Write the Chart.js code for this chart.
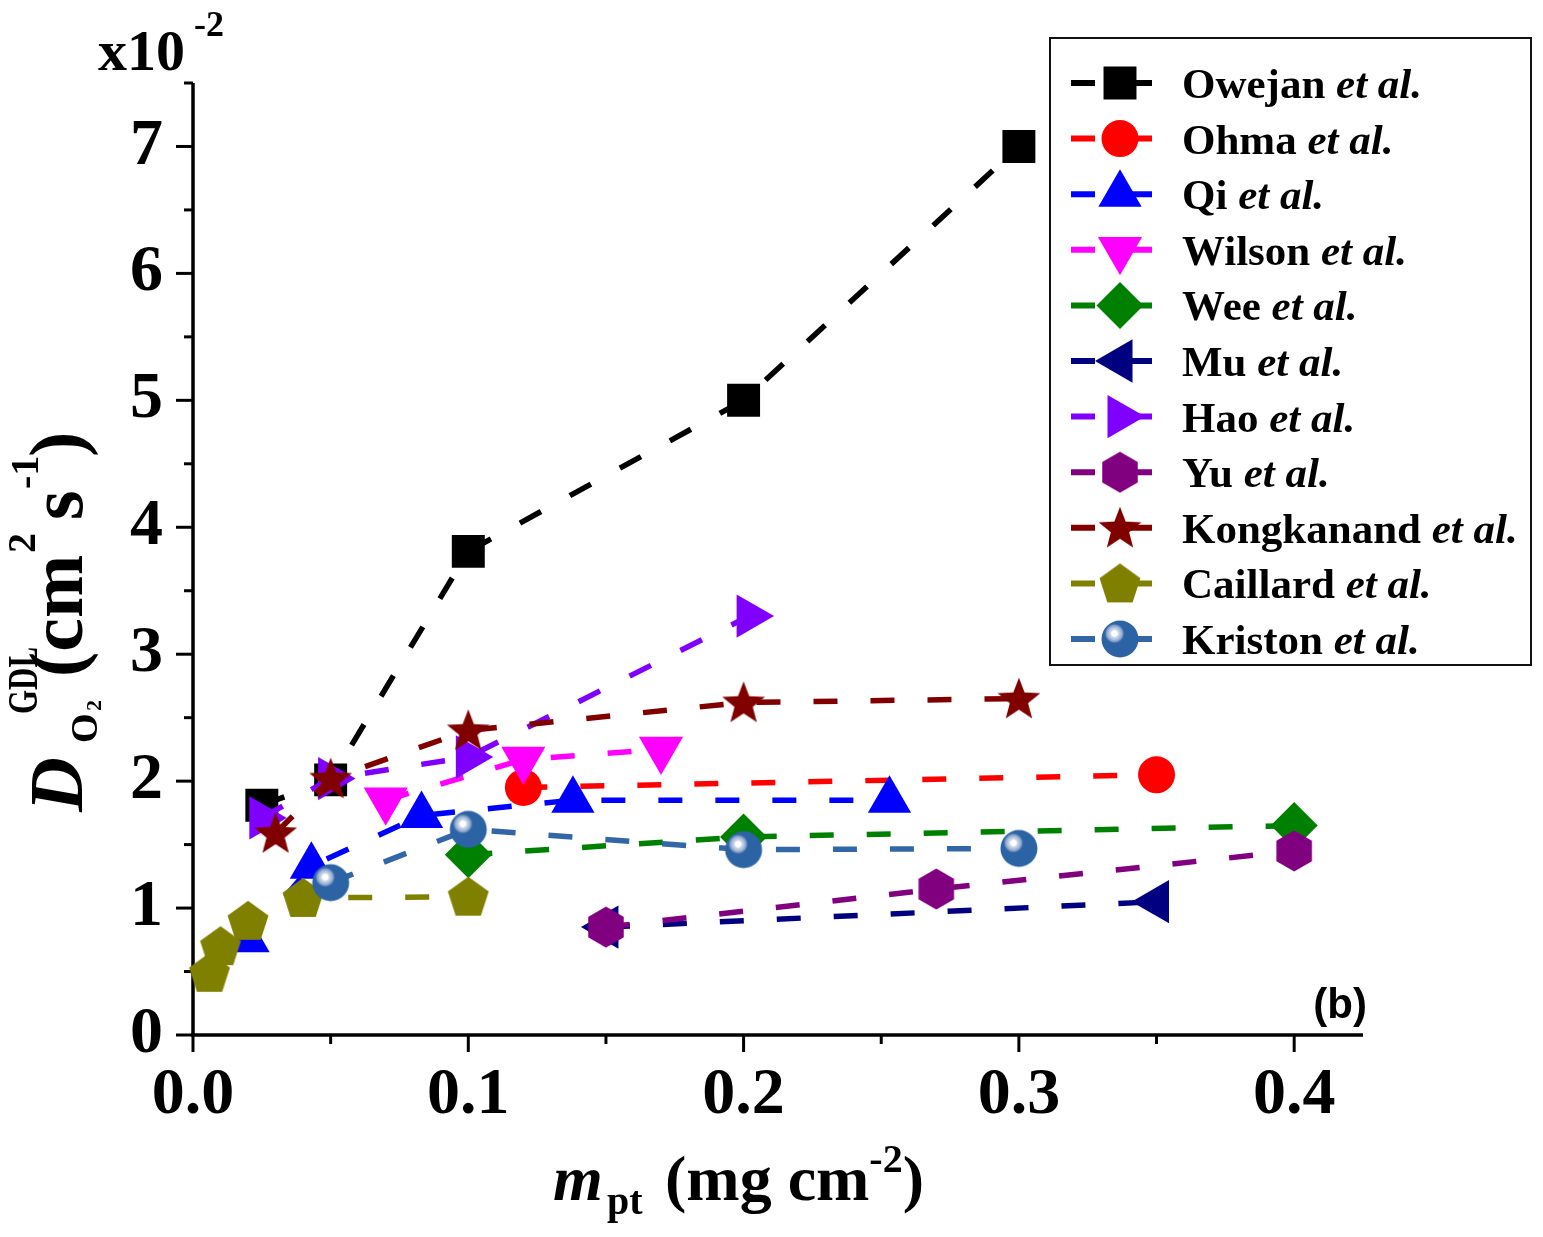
<!DOCTYPE html>
<html><head><meta charset="utf-8">
<script src="https://cdn.jsdelivr.net/npm/chart.js@4.4.1/dist/chart.umd.min.js"></script>
<style>html,body{margin:0;padding:0;background:#fff;}canvas{display:block;}</style>
</head><body>
<canvas id="c" width="1543" height="1237"></canvas>
<script>
// ---------------- data ----------------
const seriesNames = ['Owejan','Ohma','Qi','Wilson','Wee','Mu','Hao','Yu','Kongkanand','Caillard','Kriston'];
const owejanX = [0.025, 0.05, 0.1, 0.2, 0.3];
const owejanY = [1.81, 2.01, 3.81, 5.0, 7.0];
const ohmaX = [0.12, 0.35];
const ohmaY = [1.95, 2.05];
const qiX = [0.02, 0.043, 0.083, 0.138, 0.253];
const qiY = [0.75, 1.33, 1.73, 1.85, 1.85];
const wilsonX = [0.07, 0.12, 0.17];
const wilsonY = [1.85, 2.17, 2.25];
const weeX = [0.1, 0.2, 0.4];
const weeY = [1.42, 1.56, 1.65];
const muX = [0.15, 0.35];
const muY = [0.85, 1.05];
const haoX = [0.025, 0.05, 0.1, 0.202];
const haoY = [1.71, 2.02, 2.19, 3.3];
const yuX = [0.15, 0.27, 0.4];
const yuY = [0.85, 1.15, 1.45];
const kongX = [0.03, 0.05, 0.1, 0.2, 0.3];
const kongY = [1.59, 2.02, 2.4, 2.62, 2.65];
const caillardX = [0.006, 0.01, 0.02, 0.04, 0.1];
const caillardY = [0.49, 0.7, 0.9, 1.08, 1.09];
const kristonX = [0.05, 0.1, 0.2, 0.3];
const kristonY = [1.2, 1.62, 1.46, 1.47];

const xTickValues = [0, 0.1, 0.2, 0.3, 0.4];
const xTickLabels = ['0.0', '0.1', '0.2', '0.3', '0.4'];
const xMinorTicks = [0.05, 0.15, 0.25, 0.35];
const yTickValues = [0, 1, 2, 3, 4, 5, 6, 7];
const yTickLabels = ['0', '1', '2', '3', '4', '5', '6', '7'];
const yMinorTicks = [0.5, 1.5, 2.5, 3.5, 4.5, 5.5, 6.5, 7.5];

// ---------------- marker images ----------------
function mk(size, fn) { const c = document.createElement('canvas'); c.width = size; c.height = size; const g = c.getContext('2d'); fn(g, size / 2, size / 2); return c; }
function poly(g, cx, cy, pts) { g.beginPath(); pts.forEach((p, i) => i ? g.lineTo(cx + p[0], cy + p[1]) : g.moveTo(cx + p[0], cy + p[1])); g.closePath(); }
function regular(r, n, a0) { const p = []; for (let i = 0; i < n; i++) { const a = a0 + i * 2 * Math.PI / n; p.push([r * Math.cos(a), r * Math.sin(a)]); } return p; }
const starImg = mk(52, (g, cx, cy) => {
  const p = []; for (let i = 0; i < 10; i++) { const r = i % 2 ? 9.6 : 22.5; const a = -Math.PI / 2 + i * Math.PI / 5; p.push([r * Math.cos(a), r * Math.sin(a) + 1.5]); }
  g.fillStyle = '#800000'; poly(g, cx, cy, p); g.fill();
});
const pentImg = mk(52, (g, cx, cy) => { g.fillStyle = '#808000'; poly(g, cx, cy, regular(21.5, 5, -Math.PI / 2).map(q => [q[0], q[1] + 1.5])); g.fill(); });
const hexImg = mk(52, (g, cx, cy) => { g.fillStyle = '#800080'; poly(g, cx, cy, regular(20.5, 6, -Math.PI / 2)); g.fill(); });
const ballImg = mk(52, (g, cx, cy) => {
  g.fillStyle = '#2C63A4'; g.beginPath(); g.arc(cx, cy, 18.5, 0, 2 * Math.PI); g.fill();
  const hx = cx - 5.5, hy = cy - 5.5;
  const gr = g.createRadialGradient(hx, hy, 0, hx, hy, 10.5);
  gr.addColorStop(0, '#ffffff'); gr.addColorStop(0.28, '#ffffff'); gr.addColorStop(0.34, '#d5dfee');
  gr.addColorStop(0.6, '#a9bddb'); gr.addColorStop(0.78, '#7f9ac6'); gr.addColorStop(1, 'rgba(44,99,164,0)');
  g.fillStyle = gr; g.beginPath(); g.arc(hx, hy, 10.5, 0, 2 * Math.PI); g.fill();
});

// ---------------- datasets ----------------
const styles = [
  { x: owejanX, y: owejanY, color: '#000000', ps: 'rect', r: 23.3, rot: 0 },
  { x: ohmaX, y: ohmaY, color: '#FF0000', ps: 'circle', r: 18.5, rot: 0 },
  { x: qiX, y: qiY, color: '#0000FF', ps: 'triangle', r: 25, rot: 0 },
  { x: wilsonX, y: wilsonY, color: '#FF00FF', ps: 'triangle', r: 25.5, rot: 180 },
  { x: weeX, y: weeY, color: '#008000', ps: 'rectRot', r: 23.5, rot: 0 },
  { x: muX, y: muY, color: '#000080', ps: 'triangle', r: 25, rot: -90 },
  { x: haoX, y: haoY, color: '#8000FF', ps: 'triangle', r: 25, rot: 90 },
  { x: yuX, y: yuY, color: '#800080', ps: hexImg, r: 20, rot: 0 },
  { x: kongX, y: kongY, color: '#800000', ps: starImg, r: 21, rot: 0 },
  { x: caillardX, y: caillardY, color: '#808000', ps: pentImg, r: 21, rot: 0 },
  { x: kristonX, y: kristonY, color: '#3366A6', ps: ballImg, r: 18.5, rot: 0 }
];
const datasets = styles.map((s, i) => ({
  label: seriesNames[i],
  data: s.x.map((xv, k) => ({ x: xv, y: s.y[k] })),
  showLine: true,
  borderColor: s.color,
  backgroundColor: s.color,
  borderWidth: 5.5,
  borderDash: [24, 33],
  pointStyle: s.ps,
  pointRadius: s.r,
  pointHoverRadius: s.r,
  pointRotation: s.rot,
  pointBackgroundColor: s.color,
  pointBorderColor: s.color,
  pointBorderWidth: 0,
  tension: 0,
  clip: false,
  order: -i
}));

const SERIF = '"Liberation Serif", "Times New Roman", serif';

// ---------------- decorations plugin ----------------
const decor = {
  id: 'decor',
  beforeDatasetsDraw(chart) {
    const ctx = chart.ctx, xs = chart.scales.x, ys = chart.scales.y;
    const x0 = xs.getPixelForValue(0), y0 = ys.getPixelForValue(0);
    ctx.save();
    ctx.strokeStyle = '#000';
    ctx.lineWidth = 3.5;
    ctx.beginPath(); ctx.moveTo(x0, y0 + 1.75); ctx.lineTo(x0, ys.getPixelForValue(ys.max)); ctx.stroke();
    ctx.beginPath(); ctx.moveTo(x0 - 1.75, y0); ctx.lineTo(xs.getPixelForValue(xs.max), y0); ctx.stroke();
    ctx.lineWidth = 3;
    xTickValues.forEach(v => { const p = xs.getPixelForValue(v); ctx.beginPath(); ctx.moveTo(p, y0); ctx.lineTo(p, y0 + 17); ctx.stroke(); });
    xMinorTicks.forEach(v => { const p = xs.getPixelForValue(v); ctx.beginPath(); ctx.moveTo(p, y0); ctx.lineTo(p, y0 + 9); ctx.stroke(); });
    yTickValues.forEach(v => { const p = ys.getPixelForValue(v); ctx.beginPath(); ctx.moveTo(x0, p); ctx.lineTo(x0 - 17, p); ctx.stroke(); });
    yMinorTicks.forEach(v => { const p = ys.getPixelForValue(v); ctx.beginPath(); ctx.moveTo(x0, p); ctx.lineTo(x0 - 9, p); ctx.stroke(); });
    ctx.restore();
  },
  afterDraw(chart) {
    const ctx = chart.ctx;
    ctx.save();
    ctx.fillStyle = '#000';
    ctx.textBaseline = 'alphabetic';
    ctx.textAlign = 'left';
    const t = (s, x, y, font) => { ctx.font = font; ctx.fillText(s, x, y); return ctx.measureText(s).width; };

    // exponent label
    t('x10', 98, 70, 'bold 58px ' + SERIF);
    t('-2', 194, 36, 'bold 36px ' + SERIF);

    // x title
    t('m', 553, 1200, 'italic bold 64px ' + SERIF);
    t('pt', 607, 1214, 'bold 40px ' + SERIF);
    let xx = 665;
    xx += t('(mg cm', xx, 1200, 'bold 64px ' + SERIF);
    xx += t('-2', xx, 1172, 'bold 40px ' + SERIF);
    t(')', xx, 1200, 'bold 64px ' + SERIF);

    // y title (rotated)
    ctx.save();
    ctx.translate(82, 810);
    ctx.rotate(-Math.PI / 2);
    t('D', -2, 0, 'italic bold 76px ' + SERIF);
    t('O', 67, 15, 'bold 38px ' + SERIF);
    t('2', 99, 19, 'bold 22px ' + SERIF);
    ctx.save(); ctx.translate(96, -45); ctx.scale(0.72, 1); t('GDL', 0, 0, 'bold 43px ' + SERIF); ctx.restore();
    t('(cm', 133, 0, 'bold 76px ' + SERIF);
    t('2', 257, -47, 'bold 40px ' + SERIF);
    t('s', 290, 0, 'bold 76px ' + SERIF);
    t('-1', 321, -44, 'bold 40px ' + SERIF);
    t(')', 353, 0, 'bold 76px ' + SERIF);
    ctx.restore();

    // panel label
    ctx.textAlign = 'right';
    t('(b)', 1367, 1018, 'bold 42px "Liberation Sans", Arial, sans-serif');
    ctx.textAlign = 'left';

    // legend
    ctx.lineWidth = 2; ctx.strokeStyle = '#111';
    ctx.strokeRect(1050, 38, 481, 627);
    styles.forEach((s, i) => {
      const y = 83 + i * 55.6;
      ctx.save();
      ctx.strokeStyle = s.color; ctx.lineWidth = 6; ctx.setLineDash([24, 33]);
      ctx.beginPath(); ctx.moveTo(1071, y); ctx.lineTo(1153, y); ctx.stroke();
      ctx.setLineDash([]);
      ctx.fillStyle = s.color;
      Chart.helpers.drawPoint(ctx, { pointStyle: s.ps, rotation: s.rot, radius: s.r, borderWidth: 0 }, 1120, y);
      ctx.restore();
      ctx.fillStyle = '#000';
      const w = t(seriesNames[i] + ' ', 1182, y + 15, 'bold 43px ' + SERIF);
      t('et al.', 1182 + w, y + 15, 'italic bold 43px ' + SERIF);
    });
    ctx.restore();
  }
};

new Chart(document.getElementById('c'), {
  type: 'scatter',
  data: { datasets },
  options: {
    responsive: false,
    animation: false,
    devicePixelRatio: 1,
    layout: { padding: { left: 0, right: 180, top: 83, bottom: 0 } },
    plugins: { legend: { display: false }, tooltip: { enabled: false } },
    scales: {
      x: {
        type: 'linear', min: 0, max: 0.425, position: 'bottom',
        grid: { display: false, drawTicks: false },
        border: { display: false },
        afterBuildTicks: s => { s.ticks = xTickValues.map(v => ({ value: v })); },
        afterFit: s => { s.height = 202; },
        ticks: {
          padding: 21, color: '#000', maxRotation: 0, autoSkip: false,
          font: { family: SERIF, size: 66, weight: 'bold' },
          callback: (v, i) => xTickLabels[i]
        }
      },
      y: {
        type: 'linear', min: 0, max: 7.5, position: 'left',
        grid: { display: false, drawTicks: false },
        border: { display: false },
        afterBuildTicks: s => { s.ticks = yTickValues.map(v => ({ value: v })); },
        afterFit: s => { s.width = 193; },
        ticks: {
          padding: 30, color: '#000', autoSkip: false,
          font: { family: SERIF, size: 66, weight: 'bold' },
          callback: (v, i) => yTickLabels[i]
        }
      }
    }
  },
  plugins: [decor]
});
</script>
</body></html>
